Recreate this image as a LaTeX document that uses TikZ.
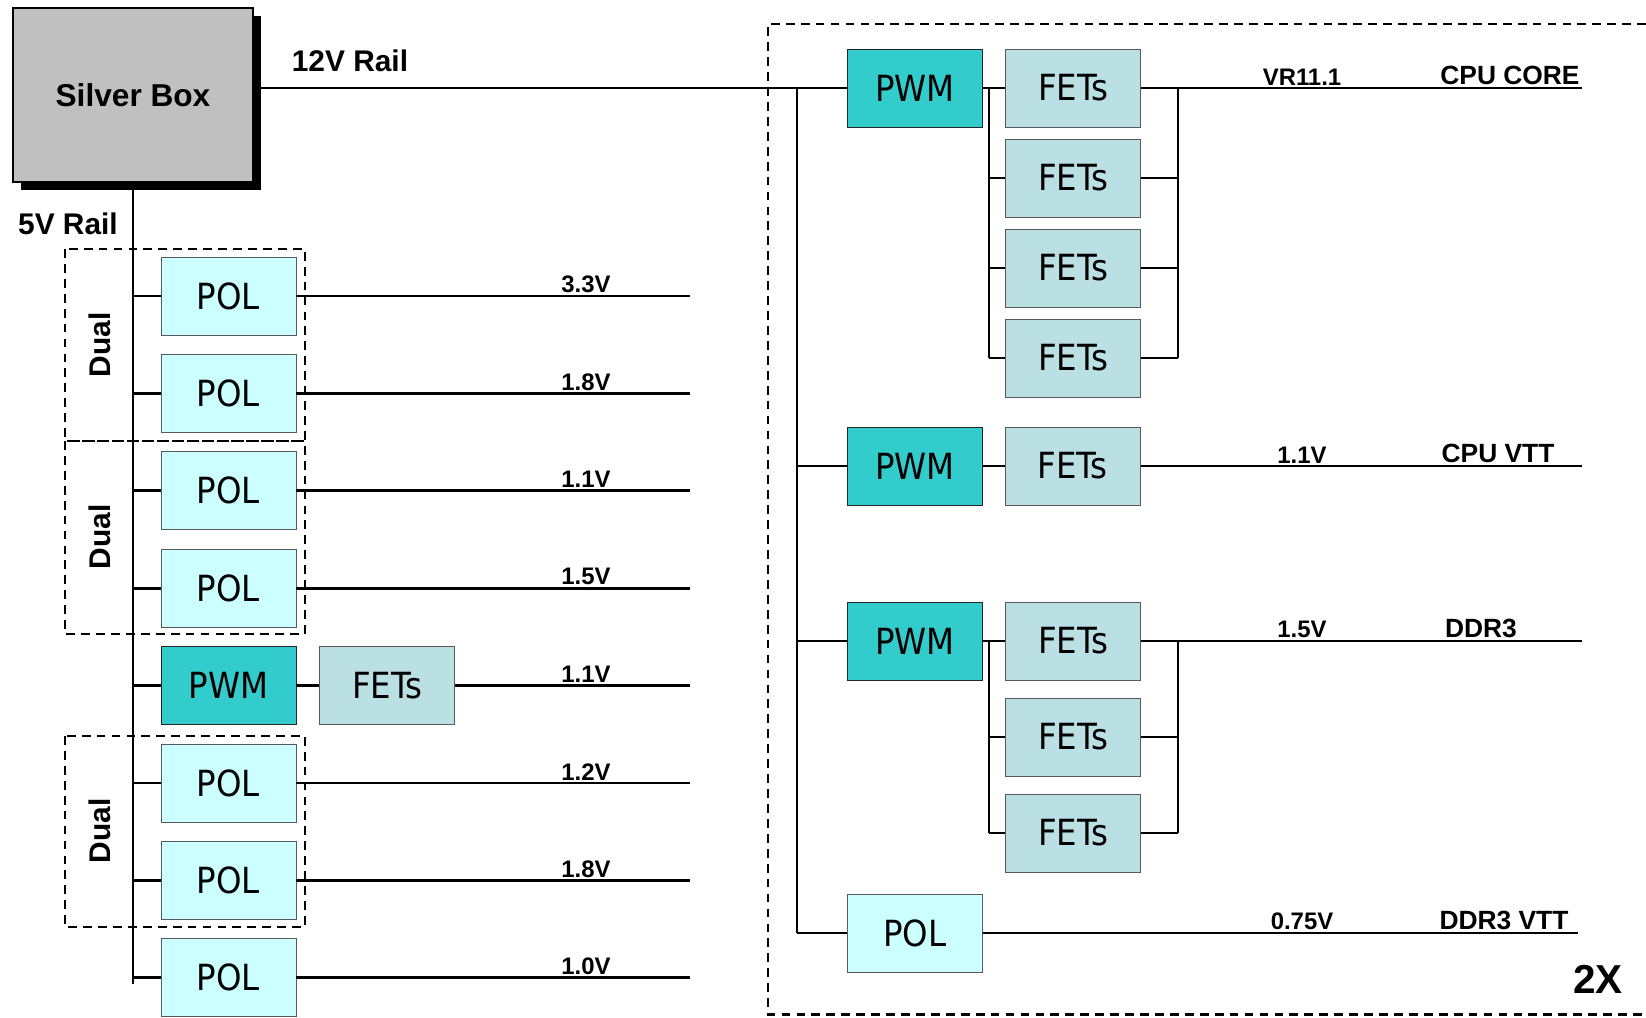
\documentclass[tikz,border=0pt]{standalone}
\usepackage{fontspec}
\setmainfont{Liberation Sans}
\newfontfamily\boxfont{DejaVu Sans Condensed}
\definecolor{PolCyan}{RGB}{204,255,255}
\definecolor{PwmTeal}{RGB}{51,204,204}
\definecolor{FetGray}{RGB}{187,224,227}
\definecolor{SilverGray}{RGB}{192,192,192}
\usetikzlibrary{positioning, shadows}
\newcommand{\boxtext}{\boxfont\fontsize{20.5}{21}\selectfont}

\begin{document}
\begin{tikzpicture}[
	pol/.style={draw=gray!70!black, fill=PolCyan, minimum width=2.7cm, minimum height=1.56cm, inner sep=0pt, font=\boxtext},
	pwm/.style={pol, fill=PwmTeal, draw=black!85},
	fets/.style={pol, fill=FetGray},
	wire/.style={line width=1.5pt},
	dualbox/.style={line width=1.3pt, dash pattern=on 5pt off 3.5pt},
	volt/.style={anchor=south, inner sep=1.5pt, font=\bfseries\fontsize{13.6}{14}\selectfont},
	loadlbl/.style={anchor=south, inner sep=1.5pt, font=\bfseries\fontsize{15}{16}\selectfont},
	rail/.style={font=\bfseries\fontsize{17}{18}\selectfont}]
	\useasboundingbox (0,0) rectangle (32.92,20.34);

	% silver box and rails
	\node[draw=black, line width=1.2pt, fill=SilverGray, minimum width=4.8cm, minimum height=3.48cm,
		font=\bfseries\fontsize{18}{19}\selectfont,
		drop shadow={shadow xshift=0.16cm, shadow yshift=-0.16cm, fill=black, opacity=1}] (sb) at (2.66,18.44) {Silver Box};
	\node[rail] (r12) at (7.0,19.12) {12V Rail};
	\node[rail] (r5) at (1.36,15.86) {5V Rail};

	% 5V side
	\foreach \s/\t/\v [count=\i] in {pol/POL/3.3V, pol/POL/1.8V, pol/POL/1.1V, pol/POL/1.5V,
		pwm/PWM/1.1V, pol/POL/1.2V, pol/POL/1.8V, pol/POL/1.0V}{
		\node[\s] (l\i) at (4.57,{16.368-1.948*\i}) {\t};
		\coordinate (o\i) at (13.8,{16.368-1.948*\i});
		\node[volt] (v\i) at (11.72,{16.368-1.948*\i}) {\v};
		\draw[wire] (sb.south |- l\i.west) -- (l\i.west);
	}
	\node[fets, right=0.46cm of l5] (lf) {FETs};
	\coordinate (b5) at (2.66,0.66);
	\draw[wire] (sb.south) -- (b5);
	\foreach \i in {1,2,3,4,6,7,8}
		\draw[wire] (l\i.east) -- (o\i);
	\draw[wire] (l5.east) -- (lf.west);
	\draw[wire] (lf.east) -- (o5);

	\draw[dualbox] (1.30,15.36) rectangle (6.10,11.52);
	\draw[dualbox] (1.30,11.52) rectangle (6.10,7.66);
	\draw[dualbox] (1.30,5.62) rectangle (6.10,1.80);
	\foreach \y [count=\i] in {13.44,9.60,3.72}
		\node[rotate=90, font=\bfseries\fontsize{17}{18}\selectfont] (d\i) at (2.0,\y) {Dual};

	% 12V side, 2X
	\draw[dualbox] (32.92,19.86) -- (15.36,19.86) -- (15.36,0.05) -- (32.92,0.05);
	\node[pwm] (pwmA) at (18.30,18.58) {PWM};
	\foreach \i in {1,...,4}
		\node[fets] (fa\i) at (21.46,{18.58-1.8*(\i-1)}) {FETs};
	\node[pwm] (pwmB) at (18.30,11.02) {PWM};
	\node[fets, right=0.44cm of pwmB] (fb) {FETs};
	\node[pwm] (pwmC) at (18.30,7.52) {PWM};
	\foreach \i in {1,2,3}
		\node[fets] (fc\i) at (21.46,{7.52-1.92*(\i-1)}) {FETs};
	\node[pol] (polD) at (18.30,1.68) {POL};

	\coordinate (bus12) at (15.94,0);
	\coordinate (busL) at (19.78,0);
	\coordinate (busR) at (23.56,0);
	\draw[wire] (sb.east |- pwmA) -- (pwmA.west);
	\draw[wire] (bus12 |- pwmA) -- (bus12 |- polD);
	\foreach \n in {pwmB,pwmC,polD}
		\draw[wire] (bus12 |- \n) -- (\n.west);

	\draw[wire] (pwmA.east) -- (fa1.west);
	\draw[wire] (busL |- fa1) -- (busL |- fa4);
	\draw[wire] (busR |- fa1) -- (busR |- fa4);
	\foreach \i in {2,3,4}
		\draw[wire] (busL |- fa\i) -- (fa\i.west);
	\foreach \i in {1,...,4}
		\draw[wire] (fa\i.east) -- (busR |- fa\i);

	\draw[wire] (pwmB.east) -- (fb.west);

	\draw[wire] (pwmC.east) -- (fc1.west);
	\draw[wire] (busL |- fc1) -- (busL |- fc3);
	\draw[wire] (busR |- fc1) -- (busR |- fc3);
	\foreach \i in {2,3}
		\draw[wire] (busL |- fc\i) -- (fc\i.west);
	\foreach \i in {1,2,3}
		\draw[wire] (fc\i.east) -- (busR |- fc\i);

	\coordinate (outA) at (31.64,18.58);
	\coordinate (outB) at (31.64,11.02);
	\coordinate (outC) at (31.64,7.52);
	\coordinate (outD) at (31.56,1.68);
	\draw[wire] (fa1.east) -- (outA);
	\draw[wire] (fb.east) -- (outB);
	\draw[wire] (fc1.east) -- (outC);
	\draw[wire] (polD.east) -- (outD);

	\node[volt] (vA) at (26.04,18.58) {VR11.1};
	\node[volt] (vB) at (26.04,11.02) {1.1V};
	\node[volt] (vC) at (26.04,7.52) {1.5V};
	\node[volt] (vD) at (26.04,1.68) {0.75V};
	\node[loadlbl] (nA) at (30.20,18.58) {CPU CORE};
	\node[loadlbl] (nB) at (29.96,11.02) {CPU VTT};
	\node[loadlbl] (nC) at (29.62,7.52) {DDR3};
	\node[loadlbl] (nD) at (30.08,1.68) {DDR3 VTT};
	\node[font=\bfseries\fontsize{23}{24}\selectfont] (twox) at (31.96,0.76) {2X};
\end{tikzpicture}
\end{document}
